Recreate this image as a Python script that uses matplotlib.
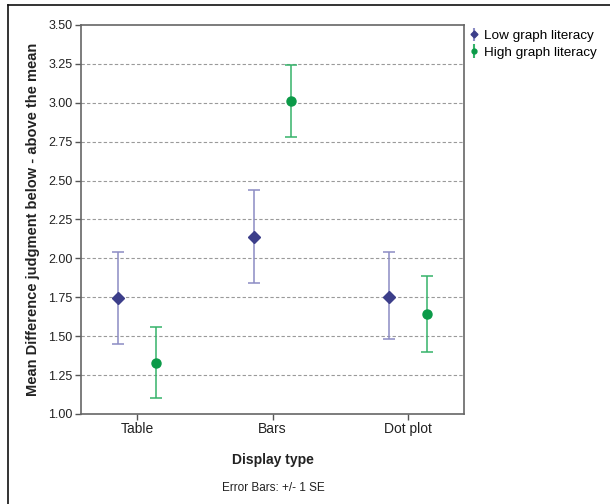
import matplotlib
matplotlib.use("Agg")
import matplotlib.pyplot as plt
from matplotlib.lines import Line2D
import numpy as np

categories = ["Table", "Bars", "Dot plot"]
low_mean = [1.745, 2.14, 1.755]
low_lower = [1.45, 1.84, 1.48]
low_upper = [2.04, 2.44, 2.04]
high_mean = [1.33, 3.01, 1.64]
high_lower = [1.10, 2.78, 1.40]
high_upper = [1.56, 3.245, 1.89]
yticks = [1.00, 1.25, 1.50, 1.75, 2.00, 2.25, 2.50, 2.75, 3.00, 3.25, 3.50]

plt.rcParams['font.family'] = ['Liberation Sans', 'DejaVu Sans']

fig = plt.figure(figsize=(6.10, 5.04), dpi=100)
ax = fig.add_axes([0.1328, 0.1786, 0.6279, 0.7718])

x = np.arange(len(categories))
off = 0.137

low_col = "#3c3e8a"
low_err = "#8c8cc4"
high_col = "#0b9a48"
high_err = "#35b36a"

for yt in yticks[1:-1]:
    ax.axhline(yt, color="#9a9a9a", linestyle=(0, (3, 2)), linewidth=0.8, zorder=0)

lm = np.array(low_mean)
hm = np.array(high_mean)
ax.errorbar(x - off, lm, yerr=[lm - np.array(low_lower), np.array(low_upper) - lm],
            fmt="D", color=low_col, ecolor=low_err, elinewidth=1.1, capsize=4,
            capthick=1.1, markersize=6, zorder=3)
ax.errorbar(x + off, hm, yerr=[hm - np.array(high_lower), np.array(high_upper) - hm],
            fmt="o", color=high_col, ecolor=high_err, elinewidth=1.1, capsize=4,
            capthick=1.1, markersize=6.5, zorder=3)

ax.set_xlim(-0.413, 2.413)
ax.set_ylim(1.0, 3.5)
ax.set_xticks(x)
ax.set_xticklabels(categories, fontsize=10, color="#222222")
ax.set_yticks(yticks)
ax.set_yticklabels([f"{v:.2f}" for v in yticks], fontsize=9, color="#222222")
ax.tick_params(axis="both", direction="out", length=4, width=1, color="#555555", pad=2)
for s in ax.spines.values():
    s.set_color("#666666")
    s.set_linewidth(1.2)

ax.set_xlabel("Display type", fontsize=10, fontweight="bold", labelpad=12, color="#222222")
ax.set_ylabel("Mean Difference judgment below - above the mean", fontsize=10.5,
              fontweight="bold", labelpad=6, color="#222222")

fig.text(0.4475, (504 - 488) / 504, "Error Bars: +/- 1 SE", fontsize=8.5,
         ha="center", va="center", color="#222222")

low_h = ax.errorbar([], [], yerr=[], fmt="D", color=low_col, ecolor=low_err,
                    markersize=3.5, capsize=2)
high_h = ax.errorbar([], [], yerr=[], fmt="o", color=high_col, ecolor=high_err,
                     markersize=3.5, capsize=2)
leg = fig.legend([low_h, high_h], ["Low graph literacy", "High graph literacy"],
                 loc="upper left", bbox_to_anchor=(0.762, 0.952), frameon=False,
                 fontsize=9.7, handlelength=0.6, handletextpad=0.4,
                 labelspacing=0.32, borderaxespad=0)

# outer frame (top and left edges)
fig.add_artist(Line2D([8 / 610, 1.0], [1 - 5 / 504, 1 - 5 / 504], color="#111111", linewidth=1.2))
fig.add_artist(Line2D([8 / 610, 8 / 610], [0.0, 1 - 5 / 504], color="#111111", linewidth=1.2))

fig.savefig("out.png", dpi=100)
